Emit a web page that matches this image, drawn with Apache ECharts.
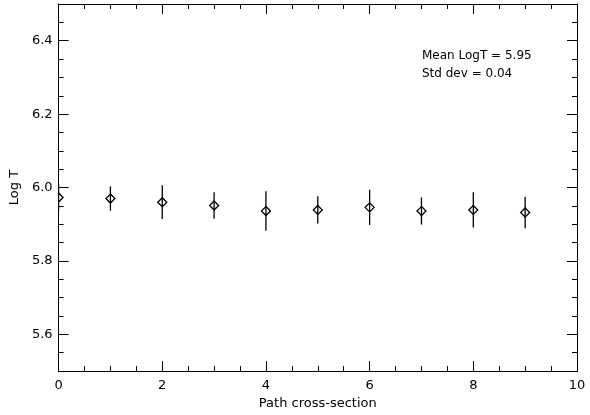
<!DOCTYPE html>
<html><head><meta charset="utf-8">
<script src="https://cdn.jsdelivr.net/npm/echarts@6/dist/echarts.min.js"></script>
<style>html,body{margin:0;padding:0;background:#fff}#c{width:590px;height:415px}</style>
</head><body><div id="c"></div>
<script>
const sections = [0, 1, 2, 3, 4, 5, 6, 7, 8, 9];
const logT = [5.973, 5.970, 5.960, 5.951, 5.936, 5.939, 5.946, 5.936, 5.939, 5.932];
const logTErr = [0.035, 0.033, 0.046, 0.036, 0.054, 0.037, 0.048, 0.037, 0.048, 0.043];
const xTicks = [0, 2, 4, 6, 8, 10];
const yTicks = [5.6, 5.8, 6.0, 6.2, 6.4];
const annotation = ['Mean LogT = 5.95', 'Std dev = 0.04'];

const FONT = 'DejaVu Sans';
const chart = echarts.init(document.getElementById('c'), null, {renderer: 'canvas'});
const line = {show: true, onZero: false, lineStyle: {color: '#000', width: 1}};
const tickStyle = {color: '#000', width: 1};
const labelStyle = {color: '#000', fontFamily: FONT, fontSize: 13};
const nameStyle = {color: '#000', fontFamily: FONT, fontSize: 13};
const YMIN = 5.5, YMAX = 6.5;

function yMajor(pos, withLabels) {
  return {
    type: 'value', position: pos, min: YMIN, max: YMAX,
    axisLine: line, splitLine: {show: false},
    axisTick: {show: true, inside: true, length: 10, lineStyle: tickStyle, customValues: yTicks},
    axisLabel: withLabels ? Object.assign({}, labelStyle, {margin: 6, customValues: yTicks,
      formatter: v => v.toFixed(1)}) : {show: false},
    name: withLabels ? 'Log T' : '', nameLocation: 'middle', nameGap: 36, nameTextStyle: nameStyle
  };
}
function yMinor(pos) {
  return {
    type: 'value', position: pos, min: YMIN, max: YMAX, interval: 0.05,
    axisLine: line, splitLine: {show: false},
    axisTick: {show: true, inside: true, length: 5, lineStyle: tickStyle},
    axisLabel: {show: false}
  };
}
function xAx(pos, withLabels) {
  return {
    type: 'value', position: pos, min: xTicks[0], max: xTicks[xTicks.length - 1], interval: 2,
    axisLine: line, splitLine: {show: false},
    axisTick: {show: true, inside: true, length: 10, lineStyle: tickStyle},
    minorTick: {show: true, splitNumber: 4, length: 5, lineStyle: tickStyle},
    axisLabel: withLabels ? Object.assign({}, labelStyle, {margin: 8}) : {show: false},
    name: withLabels ? 'Path cross-section' : '', nameLocation: 'middle', nameGap: 23, nameTextStyle: nameStyle
  };
}
const data = sections.map((s, i) => [s, logT[i], logTErr[i]]);
chart.setOption({
  animation: false,
  grid: {left: 56, right: 13, top: 4, bottom: 41, containLabel: false},
  xAxis: [xAx('bottom', true), xAx('top', false)],
  yAxis: [yMajor('left', true), yMinor('left'), yMajor('right', false), yMinor('right')],
  graphic: [{
    type: 'text', left: 422, top: 47,
    style: {text: annotation.join('\n'), fill: '#000', font: '12px ' + FONT, lineHeight: 18}
  }],
  series: [{
    type: 'custom',
    clip: true,
    data: data,
    renderItem: function (params, api) {
      const x = api.value(0), y = api.value(1), e = api.value(2);
      const c = api.coord([x, y]);
      const hi = api.coord([x, y + e]);
      const lo = api.coord([x, y - e]);
      const r = 4.5;
      return {
        type: 'group',
        children: [
          {type: 'line', shape: {x1: c[0], y1: hi[1], x2: c[0], y2: lo[1]},
           style: {stroke: '#000', lineWidth: 1.3}},
          {type: 'polygon', shape: {points: [[c[0], c[1]-r], [c[0]+r, c[1]], [c[0], c[1]+r], [c[0]-r, c[1]]]},
           style: {fill: 'none', stroke: '#000', lineWidth: 1.3}}
        ]
      };
    }
  }]
});
</script></body></html>
